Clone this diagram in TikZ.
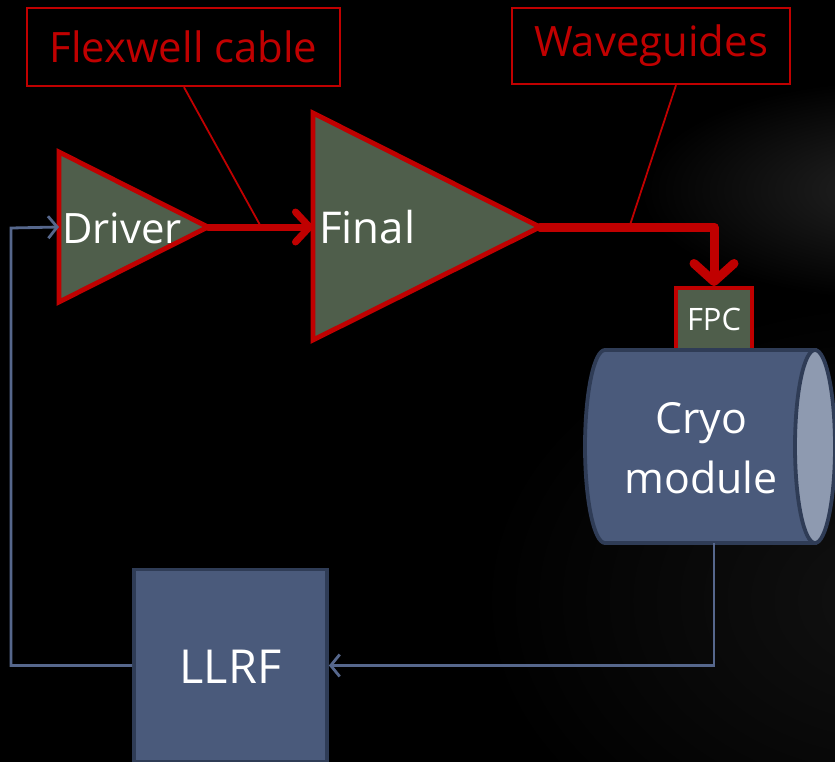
\documentclass[tikz,border=0pt]{standalone}
\usepackage{fontspec}
\setmainfont{Open Sans}
\usetikzlibrary{arrows.meta}
\definecolor{pred}{HTML}{C00000}
\definecolor{ampfill}{HTML}{4F5E4B}
\definecolor{slate}{HTML}{4A5A7B}
\definecolor{slateedge}{HTML}{2F3C56}
\definecolor{capfill}{HTML}{8E9AB0}
\definecolor{fbline}{HTML}{56678C}
\tikzset{
  amp/.style={draw=pred, fill=ampfill, line width=4.8bp, line join=miter},
  callout/.style={draw=pred, line width=2.4bp, text=pred, font=\fontsize{42}{46}\selectfont, inner sep=0pt},
  leader/.style={draw=pred, line width=1.8bp},
  label/.style={text=white, font=\fontsize{42}{46}\selectfont, inner sep=0pt},
  rfarrow/.style={draw=pred, line width=7bp, line cap=round, line join=round,
    -{Straight Barb[length=14bp, width=30bp, line cap=round, line join=round]}},
  rfarrowbig/.style={draw=pred, line width=9bp, line cap=round, line join=round,
    -{Straight Barb[length=18bp, width=40bp, line cap=round, line join=round]}},
  fb/.style={draw=fbline, line width=2.8bp, line join=miter},
  fbarrow/.style={fb, -{Straight Barb[length=9bp, width=22bp]}},
  slatebox/.style={draw=slateedge, fill=slate, line width=3.8bp},
}
\begin{document}
\begin{tikzpicture}[x=1bp,y=-1bp]
\useasboundingbox (0,0) rectangle (835,762);
\fill[black] (0,0) rectangle (835,762);
\begin{scope}
\clip (0,0) rectangle (835,762);
\shade[inner color=black!86!white, outer color=black] (900,190) ellipse [x radius=260, y radius=110];
\shade[inner color=black!93!white, outer color=black] (900,600) ellipse [x radius=420, y radius=300];
\end{scope}

% callouts
\node[callout, minimum width=313bp, minimum height=78bp] (flex) at (183.5,47) {Flexwell cable};
\node[callout, minimum width=278bp, minimum height=76bp] (wave) at (651,46) {Waveguides};

% amplifiers
\coordinate (drvT) at (59,152);
\coordinate (drvB) at (59,302);
\coordinate (drvR) at (208,227);
\coordinate (drvL) at (59,227);
\path[amp] (drvT) -- (drvR) -- (drvB) -- cycle;
\node[label, anchor=base west] (drvtxt) at (62,243) {Driver};

\coordinate (finT) at (313,113);
\coordinate (finB) at (313,340);
\coordinate (finR) at (540,227);
\coordinate (finL) at (313,227);
\path[amp] (finT) -- (finR) -- (finB) -- cycle;
\node[label, anchor=base west, font=\fontsize{44}{48}\selectfont] (fintxt) at (319,243) {Final};

% FPC
\node[amp, line width=4bp, minimum width=76bp, minimum height=62bp, inner sep=0pt, text=white,
  font=\fontsize{31}{33}\selectfont] (fpc) at (714,319) {FPC};

% cryomodule
\path[slatebox] (815,350) -- (605,350) arc[start angle=270, end angle=90, x radius=20, y radius=96.5] -- (815,543) -- cycle;
\path[draw=slateedge, fill=capfill, line width=3.8bp] (815,446.5) ellipse [x radius=20, y radius=96.5];
\coordinate (cryoB) at (714,543);
\node[label, anchor=base, font=\fontsize{43}{46}\selectfont] (cryo1) at (701,433) {Cryo};
\node[label, anchor=base, font=\fontsize{43}{46}\selectfont] (cryo2) at (701,493) {module};

% LLRF
\node[slatebox, minimum width=193bp, minimum height=192bp, inner sep=0pt] (llrf) at (230.5,665.5) {};
\node[label, anchor=base, font=\fontsize{47}{50}\selectfont] (llrftxt) at (230.5,683) {LLRF};

% RF path
\draw[rfarrow] (drvR) -- (finL);
\coordinate (elbow) at (714,227);
\draw[rfarrowbig] (finR) -- (elbow) -- (fpc.north);

% leaders
\draw[leader] (flex.south -| 184,0) -- (260,225);
\draw[leader] (wave.south -| 676,0) -- (630,225);

% feedback
\coordinate (fbA) at (714,665.5);
\draw[fbarrow] (cryoB) -- (fbA) -- (llrf.east);
\coordinate (fbB) at (11,665.5);
\coordinate (fbC) at (11,228);
\draw[fbarrow] (llrf.west) -- (fbB) -- (fbC) -- (drvL);
\end{tikzpicture}
\end{document}
